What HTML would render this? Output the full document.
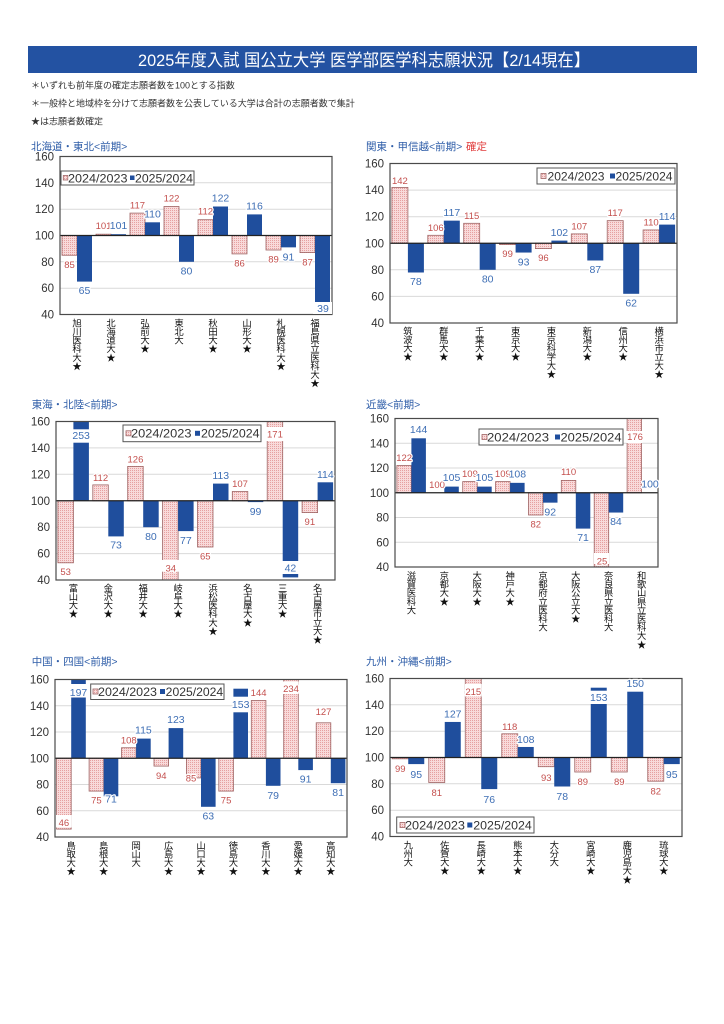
<!DOCTYPE html>
<html><head><meta charset="utf-8">
<style>
html,body{margin:0;padding:0;background:#fff;}
svg{display:block;font-family:"Liberation Sans","Noto Sans CJK JP",sans-serif;}
.tk{font-size:11.5px;fill:#333;text-anchor:end;}
.lp{font-size:9.5px;fill:#c4504e;text-anchor:middle;paint-order:stroke;stroke:#fff;stroke-width:2.5px;stroke-linejoin:round;}
.lb{font-size:10.5px;fill:#3f6fb5;text-anchor:middle;paint-order:stroke;stroke:#fff;stroke-width:2.5px;stroke-linejoin:round;}
.c{font-size:9.3px;fill:#111;text-anchor:middle;}
.g{stroke:#d9d9d9;stroke-width:1;}
.fr{fill:none;stroke:#4a4a4a;stroke-width:1.2;}
.ax{stroke:#222;stroke-width:1.3;}
.pk{fill:url(#dots);stroke:#9e6464;stroke-width:0.8;}
.bl{fill:#1f4e9d;}
.st{font-size:10.5px;fill:#2e5da8;}
.lg{fill:#fff;stroke:#555;stroke-width:1;}
.lt{font-size:12px;fill:#333;}
.nt{font-size:9px;fill:#333;}
.wb{fill:#fff;}
</style></head>
<body>
<svg width="724" height="1024" viewBox="0 0 724 1024" xmlns="http://www.w3.org/2000/svg">
<defs>
<pattern id="dots" width="2" height="2" patternUnits="userSpaceOnUse"><rect width="2" height="2" fill="#f8dada"/><rect width="1" height="1" fill="#e6a0a0"/></pattern>
</defs>

<!-- Title -->
<rect x="28" y="46" width="669" height="27" fill="#2352a2"/>
<text x="364" y="66" text-anchor="middle" font-size="17" fill="#fff" textLength="452" lengthAdjust="spacingAndGlyphs">2025年度入試 国公立大学 医学部医学科志願状況【2/14現在】</text>

<text class="nt" x="31" y="88.4">＊いずれも前年度の確定志願者数を100とする指数</text>
<text class="nt" x="31" y="106.4">＊一般枠と地域枠を分けて志願者数を公表している大学は合計の志願者数で集計</text>
<text class="nt" x="31" y="124.4">★は志願者数確定</text>

<!-- ===== Chart 1 ===== -->
<text class="st" x="31" y="150">北海道・東北&lt;前期&gt;</text>
<g>
<line class="g" x1="60" y1="288.2" x2="332" y2="288.2"/><line class="g" x1="60" y1="261.8" x2="332" y2="261.8"/>
<line class="g" x1="60" y1="209.2" x2="332" y2="209.2"/><line class="g" x1="60" y1="182.8" x2="332" y2="182.8"/>
<text class="tk" x="54" y="160.5">160</text><text class="tk" x="54" y="186.8">140</text><text class="tk" x="54" y="213.2">120</text>
<text class="tk" x="54" y="239.5">100</text><text class="tk" x="54" y="265.8">80</text><text class="tk" x="54" y="292.2">60</text><text class="tk" x="54" y="318.5">40</text>
<rect class="pk" x="62" y="235.5" width="15" height="19.75"/><rect class="bl" x="77" y="235.5" width="15" height="46.1"/>
<rect class="pk" x="96" y="234.2" width="15" height="1.3"/><rect class="bl" x="111" y="234.2" width="15" height="1.3"/>
<rect class="pk" x="130" y="213.1" width="15" height="22.4"/><rect class="bl" x="145" y="222.3" width="15" height="13.2"/>
<rect class="pk" x="164" y="206.5" width="15" height="29"/><rect class="bl" x="179" y="235.5" width="15" height="26.3"/>
<rect class="pk" x="198" y="219.7" width="15" height="15.8"/><rect class="bl" x="213" y="206.5" width="15" height="29"/>
<rect class="pk" x="232" y="235.5" width="15" height="18.4"/><rect class="bl" x="247" y="214.4" width="15" height="21.1"/>
<rect class="pk" x="266" y="235.5" width="15" height="14.5"/><rect class="bl" x="281" y="235.5" width="15" height="11.85"/>
<rect class="pk" x="300" y="235.5" width="15" height="17.1"/><rect class="bl" x="315" y="235.5" width="15" height="79"/>
<line class="ax" x1="60" y1="235.5" x2="332" y2="235.5"/>
<rect class="fr" x="60" y="156.5" width="272" height="158"/>
<rect class="wb" x="313" y="302" width="19" height="12"/>
<text class="lp" x="69.5" y="267.8">85</text><text class="lb" x="84.5" y="294.1">65</text>
<text class="lp" x="103.5" y="229.2">101</text><text class="lb" x="118.5" y="229.2">101</text>
<text class="lp" x="137.5" y="208.6">117</text><text class="lb" x="152.5" y="217.3">110</text>
<text class="lp" x="171.5" y="201.5">122</text><text class="lb" x="186.5" y="274.3">80</text>
<text class="lp" x="205.5" y="214.7">112</text><text class="lb" x="220.5" y="201.5">122</text>
<text class="lp" x="239.5" y="266.5">86</text><text class="lb" x="254.5" y="209.5">116</text>
<text class="lp" x="273.5" y="262.5">89</text><text class="lb" x="288.5" y="260.3">91</text>
<text class="lp" x="307.5" y="265.5">87</text><text class="lb" x="323" y="312.2">39</text>
<rect class="lg" x="61" y="171" width="133" height="14"/>
<rect class="pk" x="63.3" y="175.5" width="4.5" height="4.5"/><text class="lt" x="68" y="182.3" textLength="59.5" lengthAdjust="spacingAndGlyphs">2024/2023</text>
<rect class="bl" x="130" y="175.5" width="4.5" height="4.5"/><text class="lt" x="135" y="182.3" textLength="58" lengthAdjust="spacingAndGlyphs">2025/2024</text>
<text class="c" y="326.4"><tspan x="77">旭</tspan><tspan x="77" dy="8.6">川</tspan><tspan x="77" dy="8.6">医</tspan><tspan x="77" dy="8.6">科</tspan><tspan x="77" dy="8.6">大</tspan><tspan x="77" dy="8.6">★</tspan></text>
<text class="c" y="326.4"><tspan x="111">北</tspan><tspan x="111" dy="8.6">海</tspan><tspan x="111" dy="8.6">道</tspan><tspan x="111" dy="8.6">大</tspan><tspan x="111" dy="8.6">★</tspan></text>
<text class="c" y="326.4"><tspan x="145">弘</tspan><tspan x="145" dy="8.6">前</tspan><tspan x="145" dy="8.6">大</tspan><tspan x="145" dy="8.6">★</tspan></text>
<text class="c" y="326.4"><tspan x="179">東</tspan><tspan x="179" dy="8.6">北</tspan><tspan x="179" dy="8.6">大</tspan></text>
<text class="c" y="326.4"><tspan x="213">秋</tspan><tspan x="213" dy="8.6">田</tspan><tspan x="213" dy="8.6">大</tspan><tspan x="213" dy="8.6">★</tspan></text>
<text class="c" y="326.4"><tspan x="247">山</tspan><tspan x="247" dy="8.6">形</tspan><tspan x="247" dy="8.6">大</tspan><tspan x="247" dy="8.6">★</tspan></text>
<text class="c" y="326.4"><tspan x="281">札</tspan><tspan x="281" dy="8.6">幌</tspan><tspan x="281" dy="8.6">医</tspan><tspan x="281" dy="8.6">科</tspan><tspan x="281" dy="8.6">大</tspan><tspan x="281" dy="8.6">★</tspan></text>
<text class="c" y="326.4"><tspan x="315">福</tspan><tspan x="315" dy="8.6">島</tspan><tspan x="315" dy="8.6">県</tspan><tspan x="315" dy="8.6">立</tspan><tspan x="315" dy="8.6">医</tspan><tspan x="315" dy="8.6">科</tspan><tspan x="315" dy="8.6">大</tspan><tspan x="315" dy="8.6">★</tspan></text>
</g>

<!-- ===== Chart 2 ===== -->
<text class="st" x="366" y="150">関東・甲信越&lt;前期&gt;</text>
<text x="466" y="150" font-size="10.5" fill="#e03a3a">確定</text>
<g>
<line class="g" x1="390" y1="296.4" x2="677" y2="296.4"/><line class="g" x1="390" y1="269.8" x2="677" y2="269.8"/>
<line class="g" x1="390" y1="216.7" x2="677" y2="216.7"/><line class="g" x1="390" y1="190.1" x2="677" y2="190.1"/>
<text class="tk" x="384" y="167.5">160</text><text class="tk" x="384" y="194.1">140</text><text class="tk" x="384" y="220.7">120</text>
<text class="tk" x="384" y="247.25">100</text><text class="tk" x="384" y="273.8">80</text><text class="tk" x="384" y="300.4">60</text><text class="tk" x="384" y="327">40</text>
<rect class="pk" x="391.9" y="187.4" width="16" height="55.85"/><rect class="bl" x="407.9" y="243.25" width="16" height="29.25"/>
<rect class="pk" x="427.8" y="235.3" width="16" height="7.95"/><rect class="bl" x="443.8" y="220.65" width="16" height="22.6"/>
<rect class="pk" x="463.7" y="223.3" width="16" height="19.95"/><rect class="bl" x="479.7" y="243.25" width="16" height="26.55"/>
<rect class="pk" x="499.6" y="243.25" width="16" height="1.35"/><rect class="bl" x="515.6" y="243.25" width="16" height="9.3"/>
<rect class="pk" x="535.4" y="243.25" width="16" height="5.35"/><rect class="bl" x="551.4" y="240.6" width="16" height="2.65"/>
<rect class="pk" x="571.3" y="233.9" width="16" height="9.35"/><rect class="bl" x="587.3" y="243.25" width="16" height="17.25"/>
<rect class="pk" x="607.2" y="220.65" width="16" height="22.6"/><rect class="bl" x="623.2" y="243.25" width="16" height="50.55"/>
<rect class="pk" x="643.1" y="229.96" width="16" height="13.3"/><rect class="bl" x="659.1" y="224.6" width="16" height="18.65"/>
<line class="ax" x1="390" y1="243.25" x2="677" y2="243.25"/>
<rect class="fr" x="390" y="163.5" width="287" height="159.5"/>
<text class="lp" x="399.9" y="184.2">142</text><text class="lb" x="415.9" y="285.2">78</text>
<text class="lp" x="435.8" y="230.8">106</text><text class="lb" x="451.8" y="216.1">117</text>
<text class="lp" x="471.7" y="218.8">115</text><text class="lb" x="487.7" y="282.5">80</text>
<text class="lp" x="507.6" y="257.1">99</text><text class="lb" x="523.6" y="265.5">93</text>
<text class="lp" x="543.4" y="261.1">96</text><text class="lb" x="559.4" y="236.1">102</text>
<text class="lp" x="579.3" y="229.4">107</text><text class="lb" x="595.3" y="273">87</text>
<text class="lp" x="615.2" y="216.1">117</text><text class="lb" x="631.2" y="306.3">62</text>
<text class="lp" x="651.1" y="225.5">110</text><text class="lb" x="667.1" y="220.1">114</text>
<rect class="lg" x="537" y="168" width="138" height="16"/>
<rect class="pk" x="541" y="173.5" width="5" height="5"/><text class="lt" x="547.5" y="180.3" textLength="57" lengthAdjust="spacingAndGlyphs">2024/2023</text>
<rect class="bl" x="610" y="173.5" width="5" height="5"/><text class="lt" x="615.5" y="180.3" textLength="57" lengthAdjust="spacingAndGlyphs">2025/2024</text>
<text class="c" y="334.4"><tspan x="407.9">筑</tspan><tspan x="407.9" dy="8.6">波</tspan><tspan x="407.9" dy="8.6">大</tspan><tspan x="407.9" dy="8.6">★</tspan></text>
<text class="c" y="334.4"><tspan x="443.8">群</tspan><tspan x="443.8" dy="8.6">馬</tspan><tspan x="443.8" dy="8.6">大</tspan><tspan x="443.8" dy="8.6">★</tspan></text>
<text class="c" y="334.4"><tspan x="479.7">千</tspan><tspan x="479.7" dy="8.6">葉</tspan><tspan x="479.7" dy="8.6">大</tspan><tspan x="479.7" dy="8.6">★</tspan></text>
<text class="c" y="334.4"><tspan x="515.6">東</tspan><tspan x="515.6" dy="8.6">京</tspan><tspan x="515.6" dy="8.6">大</tspan><tspan x="515.6" dy="8.6">★</tspan></text>
<text class="c" y="334.4"><tspan x="551.4">東</tspan><tspan x="551.4" dy="8.6">京</tspan><tspan x="551.4" dy="8.6">科</tspan><tspan x="551.4" dy="8.6">学</tspan><tspan x="551.4" dy="8.6">大</tspan><tspan x="551.4" dy="8.6">★</tspan></text>
<text class="c" y="334.4"><tspan x="587.3">新</tspan><tspan x="587.3" dy="8.6">潟</tspan><tspan x="587.3" dy="8.6">大</tspan><tspan x="587.3" dy="8.6">★</tspan></text>
<text class="c" y="334.4"><tspan x="623.2">信</tspan><tspan x="623.2" dy="8.6">州</tspan><tspan x="623.2" dy="8.6">大</tspan><tspan x="623.2" dy="8.6">★</tspan></text>
<text class="c" y="334.4"><tspan x="659.1">横</tspan><tspan x="659.1" dy="8.6">浜</tspan><tspan x="659.1" dy="8.6">市</tspan><tspan x="659.1" dy="8.6">立</tspan><tspan x="659.1" dy="8.6">大</tspan><tspan x="659.1" dy="8.6">★</tspan></text>
</g>

<!-- ===== Chart 3 ===== -->
<text class="st" x="31.7" y="408">東海・北陸&lt;前期&gt;</text>
<g>
<line class="g" x1="56" y1="553.6" x2="335" y2="553.6"/><line class="g" x1="56" y1="527.2" x2="335" y2="527.2"/>
<line class="g" x1="56" y1="474.3" x2="335" y2="474.3"/><line class="g" x1="56" y1="447.9" x2="335" y2="447.9"/>
<text class="tk" x="50" y="425.5">160</text><text class="tk" x="50" y="451.9">140</text><text class="tk" x="50" y="478.3">120</text>
<text class="tk" x="50" y="504.75">100</text><text class="tk" x="50" y="531.2">80</text><text class="tk" x="50" y="557.6">60</text><text class="tk" x="50" y="584">40</text>
<rect class="pk" x="57.9" y="500.75" width="15.5" height="62.05"/><rect class="bl" x="73.4" y="421.5" width="15.5" height="79.25"/>
<rect class="pk" x="92.8" y="484.9" width="15.5" height="15.85"/><rect class="bl" x="108.3" y="500.75" width="15.5" height="35.65"/>
<rect class="pk" x="127.7" y="466.4" width="15.5" height="34.35"/><rect class="bl" x="143.2" y="500.75" width="15.5" height="26.45"/>
<rect class="pk" x="162.6" y="500.75" width="15.5" height="79.25"/><rect class="bl" x="178.1" y="500.75" width="15.5" height="30.35"/>
<rect class="pk" x="197.5" y="500.75" width="15.5" height="46.25"/><rect class="bl" x="213" y="483.6" width="15.5" height="17.15"/>
<rect class="pk" x="232.3" y="491.5" width="15.5" height="9.25"/><rect class="bl" x="247.8" y="500.75" width="15.5" height="1.35"/>
<rect class="pk" x="267.2" y="421.5" width="15.5" height="79.25"/><rect class="bl" x="282.7" y="500.75" width="15.5" height="76.65"/>
<rect class="pk" x="302.1" y="500.75" width="15.5" height="11.85"/><rect class="bl" x="317.6" y="482.3" width="15.5" height="18.45"/>
<line class="ax" x1="56" y1="500.75" x2="335" y2="500.75"/>
<rect class="fr" x="56" y="421.5" width="279" height="158.5"/>
<rect class="wb" x="71.5" y="429.3" width="19.5" height="13.4"/>
<rect class="wb" x="162" y="560" width="17" height="11.7"/>
<rect class="wb" x="266.5" y="427" width="17" height="14"/>
<rect class="wb" x="281.5" y="561" width="18" height="13"/>
<text class="lp" x="65.65" y="575.2">53</text><text class="lb" x="81.15" y="439.2">253</text>
<text class="lp" x="100.55" y="480.8">112</text><text class="lb" x="116.05" y="548.5">73</text>
<text class="lp" x="135.45" y="462.5">126</text><text class="lb" x="150.95" y="540.2">80</text>
<text class="lp" x="170.8" y="571.5">34</text><text class="lb" x="185.85" y="543.9">77</text>
<text class="lp" x="205.25" y="559.5">65</text><text class="lb" x="220.75" y="478.8">113</text>
<text class="lp" x="240.05" y="486.9">107</text><text class="lb" x="255.55" y="514.9">99</text>
<text class="lp" x="274.95" y="437.5">171</text><text class="lb" x="290.45" y="571.5">42</text>
<text class="lp" x="309.85" y="525.1">91</text><text class="lb" x="325.35" y="477.8">114</text>
<rect class="lg" x="123" y="425" width="138" height="16.7"/>
<rect class="pk" x="126" y="430.8" width="5" height="5"/><text class="lt" x="131" y="437.6" textLength="60.5" lengthAdjust="spacingAndGlyphs">2024/2023</text>
<rect class="bl" x="195" y="430.8" width="5" height="5"/><text class="lt" x="201" y="437.6" textLength="58.5" lengthAdjust="spacingAndGlyphs">2025/2024</text>
<text class="c" y="591.4"><tspan x="73.4">富</tspan><tspan x="73.4" dy="8.6">山</tspan><tspan x="73.4" dy="8.6">大</tspan><tspan x="73.4" dy="8.6">★</tspan></text>
<text class="c" y="591.4"><tspan x="108.3">金</tspan><tspan x="108.3" dy="8.6">沢</tspan><tspan x="108.3" dy="8.6">大</tspan><tspan x="108.3" dy="8.6">★</tspan></text>
<text class="c" y="591.4"><tspan x="143.2">福</tspan><tspan x="143.2" dy="8.6">井</tspan><tspan x="143.2" dy="8.6">大</tspan><tspan x="143.2" dy="8.6">★</tspan></text>
<text class="c" y="591.4"><tspan x="178.1">岐</tspan><tspan x="178.1" dy="8.6">阜</tspan><tspan x="178.1" dy="8.6">大</tspan><tspan x="178.1" dy="8.6">★</tspan></text>
<text class="c" y="591.4"><tspan x="213">浜</tspan><tspan x="213" dy="8.6">松</tspan><tspan x="213" dy="8.6">医</tspan><tspan x="213" dy="8.6">科</tspan><tspan x="213" dy="8.6">大</tspan><tspan x="213" dy="8.6">★</tspan></text>
<text class="c" y="591.4"><tspan x="247.8">名</tspan><tspan x="247.8" dy="8.6">古</tspan><tspan x="247.8" dy="8.6">屋</tspan><tspan x="247.8" dy="8.6">大</tspan><tspan x="247.8" dy="8.6">★</tspan></text>
<text class="c" y="591.4"><tspan x="282.7">三</tspan><tspan x="282.7" dy="8.6">重</tspan><tspan x="282.7" dy="8.6">大</tspan><tspan x="282.7" dy="8.6">★</tspan></text>
<text class="c" y="591.4"><tspan x="317.6">名</tspan><tspan x="317.6" dy="8.6">古</tspan><tspan x="317.6" dy="8.6">屋</tspan><tspan x="317.6" dy="8.6">市</tspan><tspan x="317.6" dy="8.6">立</tspan><tspan x="317.6" dy="8.6">大</tspan><tspan x="317.6" dy="8.6">★</tspan></text>
</g>

<!-- ===== Chart 4 ===== -->
<text class="st" x="366" y="408">近畿&lt;前期&gt;</text>
<g>
<line class="g" x1="395" y1="542.25" x2="658" y2="542.25"/><line class="g" x1="395" y1="517.5" x2="658" y2="517.5"/>
<line class="g" x1="395" y1="468" x2="658" y2="468"/><line class="g" x1="395" y1="443.25" x2="658" y2="443.25"/>
<text class="tk" x="389" y="422.5">160</text><text class="tk" x="389" y="447.25">140</text><text class="tk" x="389" y="472">120</text>
<text class="tk" x="389" y="496.75">100</text><text class="tk" x="389" y="521.5">80</text><text class="tk" x="389" y="546.25">60</text><text class="tk" x="389" y="571">40</text>
<rect class="pk" x="396.9" y="465.5" width="14.5" height="27.25"/><rect class="bl" x="411.4" y="438.3" width="14.5" height="54.45"/>
<rect class="bl" x="444.3" y="486.6" width="14.5" height="6.15"/>
<rect class="pk" x="462.7" y="481.6" width="14.5" height="11.15"/><rect class="bl" x="477.2" y="486.6" width="14.5" height="6.15"/>
<rect class="pk" x="495.6" y="481.6" width="14.5" height="11.15"/><rect class="bl" x="510.1" y="482.85" width="14.5" height="9.9"/>
<rect class="pk" x="528.5" y="492.75" width="14.5" height="22.25"/><rect class="bl" x="543" y="492.75" width="14.5" height="9.9"/>
<rect class="pk" x="561.3" y="480.4" width="14.5" height="12.35"/><rect class="bl" x="575.8" y="492.75" width="14.5" height="35.85"/>
<rect class="pk" x="594.2" y="492.75" width="14.5" height="74.25"/><rect class="bl" x="608.7" y="492.75" width="14.5" height="19.8"/>
<rect class="pk" x="627.1" y="418.5" width="14.5" height="74.25"/>
<line class="ax" x1="395" y1="492.75" x2="658" y2="492.75"/>
<rect class="fr" x="395" y="418.5" width="263" height="148.5"/>
<rect class="wb" x="594" y="553" width="15" height="11"/>
<rect class="wb" x="626.5" y="431" width="16" height="12"/>
<text class="lp" x="404.15" y="460.8">122</text><text class="lb" x="418.65" y="432.8">144</text>
<text class="lp" x="437" y="487.8">100</text><text class="lb" x="451.55" y="481.2">105</text>
<text class="lp" x="469.95" y="476.8">109</text><text class="lb" x="484.45" y="481.2">105</text>
<text class="lp" x="502.85" y="476.8">109</text><text class="lb" x="517.35" y="477.5">108</text>
<text class="lp" x="535.75" y="527.5">82</text><text class="lb" x="550.25" y="515.5">92</text>
<text class="lp" x="568.55" y="475.2">110</text><text class="lb" x="583.05" y="541.2">71</text>
<text class="lp" x="602" y="564.5">25</text><text class="lb" x="615.95" y="525.2">84</text>
<text class="lp" x="635" y="440.2">176</text><text class="lb" x="650" y="487.5">100</text>
<rect class="lg" x="479" y="429" width="144" height="16"/>
<rect class="pk" x="482" y="434.5" width="5" height="5"/><text class="lt" x="487" y="441.3" textLength="62" lengthAdjust="spacingAndGlyphs">2024/2023</text>
<rect class="bl" x="555" y="434.5" width="5" height="5"/><text class="lt" x="560.5" y="441.3" textLength="61" lengthAdjust="spacingAndGlyphs">2025/2024</text>
<text class="c" y="579"><tspan x="411.4">滋</tspan><tspan x="411.4" dy="8.6">賀</tspan><tspan x="411.4" dy="8.6">医</tspan><tspan x="411.4" dy="8.6">科</tspan><tspan x="411.4" dy="8.6">大</tspan></text>
<text class="c" y="579"><tspan x="444.3">京</tspan><tspan x="444.3" dy="8.6">都</tspan><tspan x="444.3" dy="8.6">大</tspan><tspan x="444.3" dy="8.6">★</tspan></text>
<text class="c" y="579"><tspan x="477.2">大</tspan><tspan x="477.2" dy="8.6">阪</tspan><tspan x="477.2" dy="8.6">大</tspan><tspan x="477.2" dy="8.6">★</tspan></text>
<text class="c" y="579"><tspan x="510.1">神</tspan><tspan x="510.1" dy="8.6">戸</tspan><tspan x="510.1" dy="8.6">大</tspan><tspan x="510.1" dy="8.6">★</tspan></text>
<text class="c" y="579"><tspan x="543">京</tspan><tspan x="543" dy="8.6">都</tspan><tspan x="543" dy="8.6">府</tspan><tspan x="543" dy="8.6">立</tspan><tspan x="543" dy="8.6">医</tspan><tspan x="543" dy="8.6">科</tspan><tspan x="543" dy="8.6">大</tspan></text>
<text class="c" y="579"><tspan x="575.8">大</tspan><tspan x="575.8" dy="8.6">阪</tspan><tspan x="575.8" dy="8.6">公</tspan><tspan x="575.8" dy="8.6">立</tspan><tspan x="575.8" dy="8.6">大</tspan><tspan x="575.8" dy="8.6">★</tspan></text>
<text class="c" y="579"><tspan x="608.7">奈</tspan><tspan x="608.7" dy="8.6">良</tspan><tspan x="608.7" dy="8.6">県</tspan><tspan x="608.7" dy="8.6">立</tspan><tspan x="608.7" dy="8.6">医</tspan><tspan x="608.7" dy="8.6">科</tspan><tspan x="608.7" dy="8.6">大</tspan></text>
<text class="c" y="579"><tspan x="641.6">和</tspan><tspan x="641.6" dy="8.6">歌</tspan><tspan x="641.6" dy="8.6">山</tspan><tspan x="641.6" dy="8.6">県</tspan><tspan x="641.6" dy="8.6">立</tspan><tspan x="641.6" dy="8.6">医</tspan><tspan x="641.6" dy="8.6">科</tspan><tspan x="641.6" dy="8.6">大</tspan><tspan x="641.6" dy="8.6">★</tspan></text>
</g>

<!-- ===== Chart 5 ===== -->
<text class="st" x="31.7" y="665">中国・四国&lt;前期&gt;</text>
<g>
<line class="g" x1="55" y1="810.75" x2="347" y2="810.75"/><line class="g" x1="55" y1="784.5" x2="347" y2="784.5"/>
<line class="g" x1="55" y1="732" x2="347" y2="732"/><line class="g" x1="55" y1="705.75" x2="347" y2="705.75"/>
<text class="tk" x="49" y="683.5">160</text><text class="tk" x="49" y="709.75">140</text><text class="tk" x="49" y="736">120</text>
<text class="tk" x="49" y="762.25">100</text><text class="tk" x="49" y="788.5">80</text><text class="tk" x="49" y="814.75">60</text><text class="tk" x="49" y="841">40</text>
<rect class="pk" x="56.6" y="758.25" width="14.6" height="70.85"/><rect class="bl" x="71.2" y="679.5" width="14.6" height="78.75"/>
<rect class="pk" x="89.1" y="758.25" width="14.6" height="32.85"/><rect class="bl" x="103.7" y="758.25" width="14.6" height="38.05"/>
<rect class="pk" x="121.5" y="747.75" width="14.6" height="10.5"/><rect class="bl" x="136.1" y="738.6" width="14.6" height="19.65"/>
<rect class="pk" x="154" y="758.25" width="14.6" height="7.85"/><rect class="bl" x="168.6" y="728.1" width="14.6" height="30.15"/>
<rect class="pk" x="186.4" y="758.25" width="14.6" height="19.65"/><rect class="bl" x="201" y="758.25" width="14.6" height="48.55"/>
<rect class="pk" x="218.8" y="758.25" width="14.6" height="32.85"/><rect class="bl" x="233.4" y="688.7" width="14.6" height="69.55"/>
<rect class="pk" x="251.3" y="700.5" width="14.6" height="57.75"/><rect class="bl" x="265.9" y="758.25" width="14.6" height="27.55"/>
<rect class="pk" x="283.7" y="679.5" width="14.6" height="78.75"/><rect class="bl" x="298.3" y="758.25" width="14.6" height="11.85"/>
<rect class="pk" x="316.2" y="722.8" width="14.6" height="35.45"/><rect class="bl" x="330.8" y="758.25" width="14.6" height="24.95"/>
<line class="ax" x1="55" y1="758.25" x2="347" y2="758.25"/>
<rect class="fr" x="55" y="679.5" width="292" height="157.5"/>
<rect class="wb" x="56" y="815" width="15.5" height="12.5"/>
<rect class="wb" x="70.5" y="684" width="16" height="13.5"/>
<rect class="wb" x="232.5" y="696.7" width="16.5" height="15.6"/>
<rect class="wb" x="283" y="681.5" width="15.5" height="12.5"/>
<text class="lp" x="63.9" y="825.8">46</text><text class="lb" x="78.5" y="696.2">197</text>
<text class="lp" x="96.4" y="803.5">75</text><text class="lb" x="111" y="802.5">71</text>
<text class="lp" x="128.8" y="743.5">108</text><text class="lb" x="143.4" y="733.5">115</text>
<text class="lp" x="161.3" y="778.8">94</text><text class="lb" x="175.9" y="722.8">123</text>
<text class="lp" x="191" y="781.5">85</text><text class="lb" x="208.3" y="819.5">63</text>
<text class="lp" x="226.1" y="803.5">75</text><text class="lb" x="240.7" y="707.8">153</text>
<text class="lp" x="258.6" y="696.2">144</text><text class="lb" x="273.2" y="799.2">79</text>
<text class="lp" x="291" y="691.8">234</text><text class="lb" x="305.6" y="782.5">91</text>
<text class="lp" x="323.5" y="715.2">127</text><text class="lb" x="338.1" y="796.2">81</text>
<rect class="lg" x="90.7" y="684" width="133.3" height="15.5"/>
<rect class="pk" x="93" y="689" width="5" height="5"/><text class="lt" x="98" y="696" textLength="59" lengthAdjust="spacingAndGlyphs">2024/2023</text>
<rect class="bl" x="160" y="689" width="5" height="5"/><text class="lt" x="165.7" y="696" textLength="57.5" lengthAdjust="spacingAndGlyphs">2025/2024</text>
<text class="c" y="848.9"><tspan x="71.2">鳥</tspan><tspan x="71.2" dy="8.6">取</tspan><tspan x="71.2" dy="8.6">大</tspan><tspan x="71.2" dy="8.6">★</tspan></text>
<text class="c" y="848.9"><tspan x="103.7">島</tspan><tspan x="103.7" dy="8.6">根</tspan><tspan x="103.7" dy="8.6">大</tspan><tspan x="103.7" dy="8.6">★</tspan></text>
<text class="c" y="848.9"><tspan x="136.1">岡</tspan><tspan x="136.1" dy="8.6">山</tspan><tspan x="136.1" dy="8.6">大</tspan></text>
<text class="c" y="848.9"><tspan x="168.6">広</tspan><tspan x="168.6" dy="8.6">島</tspan><tspan x="168.6" dy="8.6">大</tspan><tspan x="168.6" dy="8.6">★</tspan></text>
<text class="c" y="848.9"><tspan x="201">山</tspan><tspan x="201" dy="8.6">口</tspan><tspan x="201" dy="8.6">大</tspan><tspan x="201" dy="8.6">★</tspan></text>
<text class="c" y="848.9"><tspan x="233.4">徳</tspan><tspan x="233.4" dy="8.6">島</tspan><tspan x="233.4" dy="8.6">大</tspan><tspan x="233.4" dy="8.6">★</tspan></text>
<text class="c" y="848.9"><tspan x="265.9">香</tspan><tspan x="265.9" dy="8.6">川</tspan><tspan x="265.9" dy="8.6">大</tspan><tspan x="265.9" dy="8.6">★</tspan></text>
<text class="c" y="848.9"><tspan x="298.3">愛</tspan><tspan x="298.3" dy="8.6">媛</tspan><tspan x="298.3" dy="8.6">大</tspan><tspan x="298.3" dy="8.6">★</tspan></text>
<text class="c" y="848.9"><tspan x="330.8">高</tspan><tspan x="330.8" dy="8.6">知</tspan><tspan x="330.8" dy="8.6">大</tspan><tspan x="330.8" dy="8.6">★</tspan></text>
</g>

<!-- ===== Chart 6 ===== -->
<text class="st" x="366" y="665">九州・沖縄&lt;前期&gt;</text>
<g>
<line class="g" x1="390" y1="810.2" x2="682" y2="810.2"/><line class="g" x1="390" y1="783.8" x2="682" y2="783.8"/>
<line class="g" x1="390" y1="731.2" x2="682" y2="731.2"/><line class="g" x1="390" y1="704.8" x2="682" y2="704.8"/>
<text class="tk" x="384" y="682.5">160</text><text class="tk" x="384" y="708.8">140</text><text class="tk" x="384" y="735.2">120</text>
<text class="tk" x="384" y="761.5">100</text><text class="tk" x="384" y="787.8">80</text><text class="tk" x="384" y="814.2">60</text><text class="tk" x="384" y="840.5">40</text>
<rect class="pk" x="392.25" y="757.5" width="16" height="1.3"/><rect class="bl" x="408.25" y="757.5" width="16" height="6.6"/>
<rect class="pk" x="428.75" y="757.5" width="16" height="25"/><rect class="bl" x="444.75" y="721.95" width="16" height="35.55"/>
<rect class="pk" x="465.25" y="678.5" width="16" height="79"/><rect class="bl" x="481.25" y="757.5" width="16" height="31.6"/>
<rect class="pk" x="501.75" y="733.8" width="16" height="23.7"/><rect class="bl" x="517.75" y="746.97" width="16" height="10.53"/>
<rect class="pk" x="538.25" y="757.5" width="16" height="9.2"/><rect class="bl" x="554.25" y="757.5" width="16" height="29"/>
<rect class="pk" x="574.75" y="757.5" width="16" height="14.5"/><rect class="bl" x="590.75" y="687.7" width="16" height="69.8"/>
<rect class="pk" x="611.25" y="757.5" width="16" height="14.5"/><rect class="bl" x="627.25" y="691.7" width="16" height="65.8"/>
<rect class="pk" x="647.75" y="757.5" width="16" height="23.7"/><rect class="bl" x="663.75" y="757.5" width="16" height="6.6"/>
<line class="ax" x1="390" y1="757.5" x2="682" y2="757.5"/>
<rect class="fr" x="390" y="678.5" width="292" height="158"/>
<rect class="wb" x="465" y="684" width="16.5" height="12.5"/>
<rect class="wb" x="590.5" y="690.7" width="16.5" height="13.3"/>
<text class="lp" x="400.25" y="771.8">99</text><text class="lb" x="416.25" y="777.8">95</text>
<text class="lp" x="436.75" y="796.2">81</text><text class="lb" x="452.75" y="717.5">127</text>
<text class="lp" x="473.25" y="695.2">215</text><text class="lb" x="489.25" y="802.8">76</text>
<text class="lp" x="509.75" y="730.2">118</text><text class="lb" x="525.75" y="742.8">108</text>
<text class="lp" x="546.25" y="781.2">93</text><text class="lb" x="562.25" y="800.2">78</text>
<text class="lp" x="582.75" y="785.2">89</text><text class="lb" x="598.75" y="701.2">153</text>
<text class="lp" x="619.25" y="785.2">89</text><text class="lb" x="635.25" y="686.8">150</text>
<text class="lp" x="655.75" y="794.5">82</text><text class="lb" x="671.75" y="777.8">95</text>
<rect class="lg" x="396.7" y="817" width="137.3" height="16"/>
<rect class="pk" x="400" y="822.5" width="5" height="5"/><text class="lt" x="405" y="829.3" textLength="60" lengthAdjust="spacingAndGlyphs">2024/2023</text>
<rect class="bl" x="467.3" y="822.5" width="5" height="5"/><text class="lt" x="473.3" y="829.3" textLength="58.5" lengthAdjust="spacingAndGlyphs">2025/2024</text>
<text class="c" y="848.4"><tspan x="408.25">九</tspan><tspan x="408.25" dy="8.6">州</tspan><tspan x="408.25" dy="8.6">大</tspan></text>
<text class="c" y="848.4"><tspan x="444.75">佐</tspan><tspan x="444.75" dy="8.6">賀</tspan><tspan x="444.75" dy="8.6">大</tspan><tspan x="444.75" dy="8.6">★</tspan></text>
<text class="c" y="848.4"><tspan x="481.25">長</tspan><tspan x="481.25" dy="8.6">崎</tspan><tspan x="481.25" dy="8.6">大</tspan><tspan x="481.25" dy="8.6">★</tspan></text>
<text class="c" y="848.4"><tspan x="517.75">熊</tspan><tspan x="517.75" dy="8.6">本</tspan><tspan x="517.75" dy="8.6">大</tspan><tspan x="517.75" dy="8.6">★</tspan></text>
<text class="c" y="848.4"><tspan x="554.25">大</tspan><tspan x="554.25" dy="8.6">分</tspan><tspan x="554.25" dy="8.6">大</tspan></text>
<text class="c" y="848.4"><tspan x="590.75">宮</tspan><tspan x="590.75" dy="8.6">崎</tspan><tspan x="590.75" dy="8.6">大</tspan><tspan x="590.75" dy="8.6">★</tspan></text>
<text class="c" y="848.4"><tspan x="627.25">鹿</tspan><tspan x="627.25" dy="8.6">児</tspan><tspan x="627.25" dy="8.6">島</tspan><tspan x="627.25" dy="8.6">大</tspan><tspan x="627.25" dy="8.6">★</tspan></text>
<text class="c" y="848.4"><tspan x="663.75">琉</tspan><tspan x="663.75" dy="8.6">球</tspan><tspan x="663.75" dy="8.6">大</tspan><tspan x="663.75" dy="8.6">★</tspan></text>
</g>
</svg>
</body></html>
